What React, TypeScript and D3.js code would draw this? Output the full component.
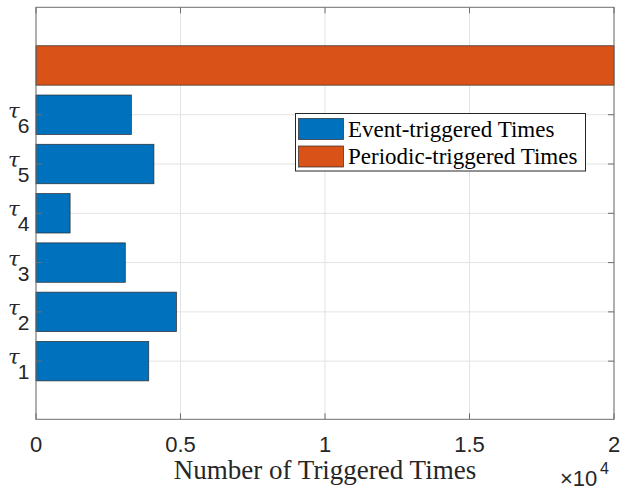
import React from "react";
import * as d3 from "d3";

// Triggered-times per task (event-triggered) and the periodic reference
const taskIndex = [1, 2, 3, 4, 5, 6];
const eventTimes = [3900, 4860, 3090, 1180, 4080, 3300];
const periodicRow = [7];
const periodicTimes = [20000];
const xTickValues = [0, 5000, 10000, 15000, 20000];
const xTickLabels = ["0", "0.5", "1", "1.5", "2"];
const legendLabels = ["Event-triggered Times", "Periodic-triggered Times"];

const W = 620;
const H = 490;
const plot = { left: 36, right: 614, top: 7.3, bottom: 419.3 };

const BLUE = "#0072BD";
const ORANGE = "#D95319";
const AXIS = "#6e6e6e";
const GRID = "#e3e3e3";

export default function App() {
  const x = d3.scaleLinear().domain([0, 20000]).range([plot.left, plot.right]);
  const y = d3.scaleLinear().domain([-0.18, 8.18]).range([plot.bottom, plot.top]);
  const barHalf = 0.4;
  const tickLen = 6;

  const bars = [
    ...taskIndex.map((k, i) => ({ k, v: eventTimes[i], color: BLUE })),
    ...periodicRow.map((k, i) => ({ k, v: periodicTimes[i], color: ORANGE })),
  ];

  return (
    <svg
      width={W}
      height={H}
      style={{ position: "absolute", left: 0, top: 0, background: "#fff" }}
    >
      <rect x={0} y={0} width={W} height={H} fill="#fff" />
      {/* grid */}
      {xTickValues.map((t) => (
        <line key={"gx" + t} x1={x(t)} x2={x(t)} y1={plot.top} y2={plot.bottom} stroke={GRID} strokeWidth={1} />
      ))}
      {taskIndex.map((k) => (
        <line key={"gy" + k} x1={plot.left} x2={plot.right} y1={y(k)} y2={y(k)} stroke={GRID} strokeWidth={1} />
      ))}
      {/* bars */}
      {bars.map((b) => (
        <rect
          key={"b" + b.k}
          x={x(0)}
          y={y(b.k + barHalf)}
          width={Math.min(x(b.v), plot.right) - x(0)}
          height={y(b.k - barHalf) - y(b.k + barHalf)}
          fill={b.color}
          stroke="#262626"
          strokeWidth={0.8}
          strokeOpacity={0.85}
        />
      ))}
      {/* axes box */}
      <rect
        x={plot.left}
        y={plot.top}
        width={plot.right - plot.left}
        height={plot.bottom - plot.top}
        fill="none"
        stroke={AXIS}
        strokeWidth={1}
      />
      {/* ticks */}
      {xTickValues.map((t) => (
        <g key={"tx" + t}>
          <line x1={x(t)} x2={x(t)} y1={plot.bottom} y2={plot.bottom - tickLen} stroke={AXIS} />
          <line x1={x(t)} x2={x(t)} y1={plot.top} y2={plot.top + tickLen} stroke={AXIS} />
        </g>
      ))}
      {taskIndex.map((k) => (
        <g key={"ty" + k}>
          <line x1={plot.left} x2={plot.left + tickLen} y1={y(k)} y2={y(k)} stroke={AXIS} />
          <line x1={plot.right} x2={plot.right - tickLen} y1={y(k)} y2={y(k)} stroke={AXIS} />
        </g>
      ))}
      {/* x tick labels */}
      {xTickValues.map((t, i) => (
        <text
          key={"lx" + t}
          x={x(t)}
          y={452}
          textAnchor="middle"
          fontFamily="Liberation Sans, Arial, sans-serif"
          fontSize={22}
          fill="#262626"
        >
          {xTickLabels[i]}
        </text>
      ))}
      {/* y tick labels */}
      {taskIndex.map((k) => (
        <text key={"ly" + k} x={8} y={y(k) + 3} fill="#262626">
          <tspan fontFamily="DejaVu Serif, serif" fontStyle="italic" fontSize={21}>
            τ
          </tspan>
          <tspan fontFamily="Liberation Sans, Arial, sans-serif" fontSize={21} dx={-2} dy={15}>
            {k}
          </tspan>
        </text>
      ))}
      {/* x label */}
      <text
        x={(plot.left + plot.right) / 2}
        y={479}
        textAnchor="middle"
        fontFamily="Liberation Serif, Times New Roman, serif"
        fontSize={27}
        fill="#262626"
      >
        Number of Triggered Times
      </text>
      {/* exponent */}
      <text x={560} y={486} fontFamily="Liberation Sans, Arial, sans-serif" fontSize={22} fill="#262626">
        {"×10"}
      </text>
      <text x={600} y={474} fontFamily="Liberation Sans, Arial, sans-serif" fontSize={16} fill="#262626">
        {"4"}
      </text>
      {/* legend */}
      <g>
        <rect x={295.5} y={113.5} width={290} height={57.5} fill="#fff" stroke="#262626" strokeWidth={1} />
        {legendLabels.map((lab, i) => (
          <g key={lab}>
            <rect
              x={298.5}
              y={118.5 + i * 27.5}
              width={45}
              height={21}
              fill={i === 0 ? BLUE : ORANGE}
              stroke="#262626"
              strokeWidth={0.8}
              strokeOpacity={0.85}
            />
            <text
              x={348}
              y={137.3 + i * 27}
              fontFamily="Liberation Serif, Times New Roman, serif"
              fontSize={23}
              fill="#000"
            >
              {lab}
            </text>
          </g>
        ))}
      </g>
    </svg>
  );
}
